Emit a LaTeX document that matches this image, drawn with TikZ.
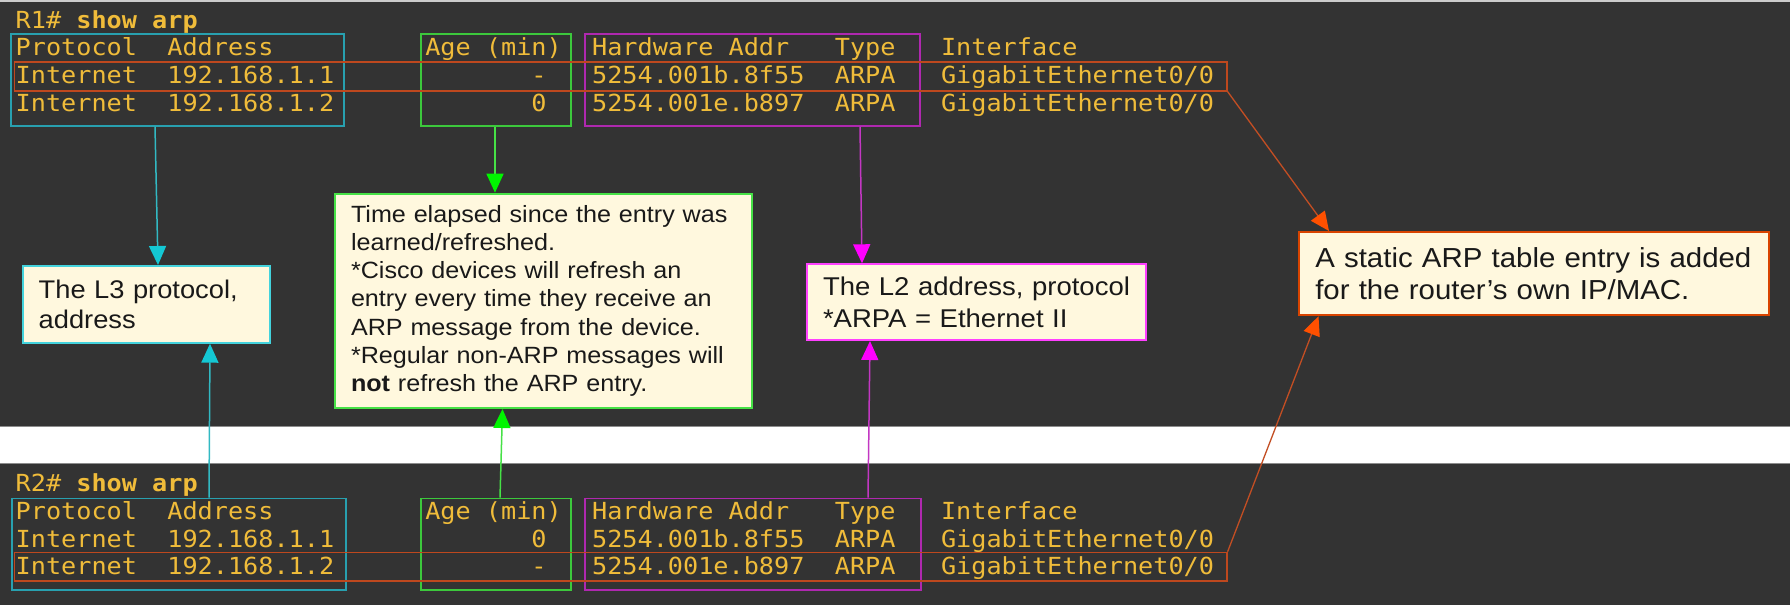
\documentclass[tikz,border=0pt]{standalone}
\usepackage{fontspec}
\newfontfamily\monof[FakeStretch=1.072]{DejaVu Sans Mono}
\newfontfamily\notef[FakeStretch=1.07]{Liberation Sans}
\usetikzlibrary{arrows.meta}
\definecolor{bgc}{RGB}{51,51,51}
\definecolor{monoc}{RGB}{240,188,58}
\definecolor{cyanbox}{RGB}{40,160,175}
\definecolor{cyanline}{RGB}{50,185,195}
\definecolor{cyanhead}{RGB}{20,200,212}
\definecolor{greenbox}{RGB}{60,200,60}
\definecolor{greenline}{RGB}{70,225,70}
\definecolor{greenhead}{RGB}{0,245,0}
\definecolor{magbox}{RGB}{175,40,175}
\definecolor{magline}{RGB}{195,55,195}
\definecolor{maghead}{RGB}{255,0,255}
\definecolor{orbox}{RGB}{190,72,30}
\definecolor{orline}{RGB}{195,78,35}
\definecolor{orhead}{RGB}{255,80,0}
\definecolor{notefill}{RGB}{255,248,222}
\definecolor{notetext}{RGB}{25,25,25}
\newcommand\arprow[9]{%
 \node[mono] (#1p) at (15.5,#2) {#4};
 \node[mono] (#1a) at ({15.5+10*15.17},#2) {#5};
 \node[mono] (#1g) at ({15.5+#3*15.17},#2) {#6};
 \node[mono] (#1h) at ({15.5+38*15.17},#2) {#7};
 \node[mono] (#1t) at ({15.5+54*15.17},#2) {#8};
 \node[mono] (#1i) at ({15.5+61*15.17},#2) {#9};}
\begin{document}
\begin{tikzpicture}[x=1pt,y=-1pt,
  mono/.style={font=\monof\fontsize{23.5}{28}\selectfont, text=monoc, inner sep=0pt, anchor=base west},
  tbox/.style={line width=1.6pt, anchor=north west, inner sep=0pt},
  note/.style={line width=2pt, fill=notefill, text=notetext, align=left, inner xsep=16pt, inner ysep=0pt, anchor=north west},
  cyanarrow/.style={draw=cyanline, line width=1.5pt, -{Triangle[width=17pt,length=19pt,color=cyanhead]}},
  greenarrow/.style={draw=greenline, line width=1.5pt, -{Triangle[width=17pt,length=19pt,color=greenhead]}},
  magarrow/.style={draw=magline, line width=1.5pt, -{Triangle[width=17pt,length=19pt,color=maghead]}},
  orarrow/.style={draw=orline, line width=1.3pt, -{Triangle[width=17pt,length=19pt,color=orhead]}}]
\useasboundingbox (0,0) rectangle (1790,605);
\fill[bgc] (0,0) rectangle (1790,605);
\fill[black!20] (0,0) rectangle (1790,1.5);
\fill[white] (0,426) rectangle (1790,463.3);
\draw[black!45, line width=1pt] (0,426) -- (1790,426) (0,463.3) -- (1790,463.3);

% ---------- R1 table ----------
\node[mono] (p1) at (15.5,28) {R1\# \textbf{show arp}};
\arprow{a0}{55}{27}{Protocol}{Address}{Age (min)}{Hardware Addr}{Type}{Interface}
\arprow{a1}{83}{34}{Internet}{192.168.1.1}{-}{5254.001b.8f55}{ARPA}{GigabitEthernet0/0}
\arprow{a2}{111}{34}{Internet}{192.168.1.2}{0}{5254.001e.b897}{ARPA}{GigabitEthernet0/0}

\node[tbox, draw=cyanbox, minimum width=332.7pt, minimum height=92pt] (cyanTop) at (10.3,33) {};
\node[tbox, draw=greenbox, minimum width=150pt, minimum height=92pt] (greenTop) at (420,33) {};
\node[tbox, draw=magbox, minimum width=335pt, minimum height=92pt] (magTop) at (584,33) {};
\node[tbox, draw=orbox, minimum width=1212.2pt, minimum height=29pt] (orTop) at (13.8,61) {};

% ---------- R2 table ----------
\node[mono] (p2) at (15.5,491) {R2\# \textbf{show arp}};
\arprow{b0}{519}{27}{Protocol}{Address}{Age (min)}{Hardware Addr}{Type}{Interface}
\arprow{b1}{547}{34}{Internet}{192.168.1.1}{0}{5254.001b.8f55}{ARPA}{GigabitEthernet0/0}
\arprow{b2}{574.5}{34}{Internet}{192.168.1.2}{-}{5254.001e.b897}{ARPA}{GigabitEthernet0/0}

\node[tbox, draw=cyanbox, minimum width=334pt, minimum height=91.6pt] (cyanBot) at (11.2,497.7) {};
\node[tbox, draw=greenbox, minimum width=150pt, minimum height=91.6pt] (greenBot) at (420,497.7) {};
\node[tbox, draw=magbox, minimum width=336pt, minimum height=91.6pt] (magBot) at (584,497.7) {};
\node[tbox, draw=orbox, minimum width=1212.2pt, minimum height=28.3pt] (orBot) at (13.8,551.7) {};

% ---------- notes ----------
\node[note, draw=cyanhead!80!white, text width=215.3pt, minimum height=76.7pt,
  font=\notef\fontsize{25.5}{30.7}\selectfont] (L3) at (21.7,265)
  {The L3 protocol,\\address};
\node[note, draw=greenline, text width=384.7pt, minimum height=214.3pt,
  font=\notef\fontsize{23.5}{28.1}\selectfont] (Big) at (334,192.7)
  {Time elapsed since the entry was\\learned/refreshed.\\\relax*Cisco devices will refresh an\\entry every time they receive an\\ARP message from the device.\\\relax*Regular non-ARP messages will\\\textbf{not} refresh the ARP entry.};
\node[note, draw=maghead!75!white, text width=307pt, minimum height=75.7pt,
  font=\notef\fontsize{25.7}{31.7}\selectfont] (L2) at (806,263.3)
  {The L2 address, protocol\\\relax*ARPA = Ethernet II};
\node[note, draw=orhead!85!black, text width=438pt, minimum height=83.3pt,
  font=\notef\fontsize{27.5}{32.3}\selectfont] (Static) at (1298.3,231)
  {A static ARP table entry is added\\for the router’s own IP/MAC.};

% ---------- connectors ----------
\draw[cyanarrow] ([xshift=144.7pt]cyanTop.south west) -- ([xshift=136.3pt]L3.north west);
\draw[cyanarrow] ([xshift=197.8pt]cyanBot.north west) -- ([xshift=188.3pt]L3.south west);
\draw[greenarrow] ([xshift=75pt]greenTop.south west) -- ([xshift=161pt]Big.north west);
\draw[greenarrow] ([xshift=80pt]greenBot.north west) -- ([xshift=168.5pt]Big.south west);
\draw[magarrow] ([xshift=276pt]magTop.south west) -- ([xshift=56pt]L2.north west);
\draw[magarrow] ([xshift=284pt]magBot.north west) -- ([xshift=64pt]L2.south west);
\draw[orarrow] (orTop.south east) -- ([xshift=30.7pt]Static.north west);
\draw[orarrow] (orBot.north east) -- ([xshift=20.2pt]Static.south west);
\end{tikzpicture}
\end{document}
